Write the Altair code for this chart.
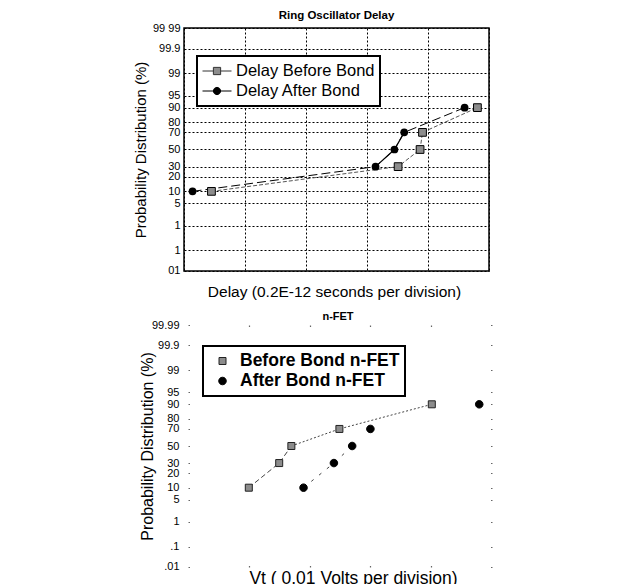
import altair as alt
import pandas as pd
from statistics import NormalDist

# ---- data ----
prob = [10, 30, 50, 70, 90]                       # cumulative probability (%)
delay_before = [0.45, 3.51, 3.87, 3.91, 4.81]     # delay, in divisions
delay_after = [0.14, 3.14, 3.45, 3.61, 4.60]
vt_before = [1.00, 1.50, 1.70, 2.49, 4.01]        # Vt, in divisions
vt_after = [1.90, 2.40, 2.70, 3.00, 4.79]

tick_pct = [99.99, 99.9, 99, 95, 90, 80, 70, 50, 30, 20, 10, 5, 1, 0.1, 0.01]
top_tick_labels = ["99 99", "99.9", "99", "95", "90", "80", "70", "50", "30",
                   "20", "10", "5", "1", "1", "01"]
bottom_tick_labels = ["99.99", "99.9", "99", "95", "90", "80", "70", "50", "30",
                      "20", "10", "5", "1", ".1", ".01"]

top_names = ["Delay Before Bond", "Delay After Bond"]
bottom_names = ["Before Bond n-FET", "After Bond n-FET"]

FONT = "Liberation Sans"

nd = NormalDist()


def probit(p):
    return nd.inv_cdf(p / 100.0)


tick_z = [round(probit(p), 4) for p in tick_pct]
y_lo, y_hi = probit(0.01), probit(99.99)


def label_expr(labels):
    expr = "''"
    for zv, lab in reversed(list(zip(tick_z, labels))):
        expr = f"abs(datum.value - ({zv})) < 0.01 ? '{lab}' : {expr}"
    return expr


def frame(xs, name):
    return pd.DataFrame({"x": xs, "p": prob, "z": [probit(p) for p in prob], "series": name})


top_b = frame(delay_before, top_names[0])
top_a = frame(delay_after, top_names[1])
top_all = pd.concat([top_b, top_a], ignore_index=True)
bot_b = frame(vt_before, bottom_names[0])
bot_a = frame(vt_after, bottom_names[1])
bot_all = pd.concat([bot_b, bot_a], ignore_index=True)

# ---- top panel ----
W1, H1 = 305, 243
top_x_axis = alt.Axis(title="Delay (0.2E-12 seconds per division)", values=[0, 1, 2, 3, 4, 5],
                      labels=False, ticks=False, domain=False, grid=True, gridDash=[2, 2],
                      gridColor="black", gridOpacity=1, gridWidth=1, titleFontSize=15.5,
                      titleFontWeight="normal", titlePadding=13, titleX=150)
top_y_axis = alt.Axis(title="Probability Distribution (%)", values=tick_z,
                      labelExpr=label_expr(top_tick_labels), labelOverlap=False, labelFlush=False,
                      ticks=False, domain=False, grid=True, gridDash=[2, 2], gridColor="black",
                      gridOpacity=1, gridWidth=1, labelFontSize=11, labelPadding=4,
                      titleFontSize=15, titleFontWeight="normal", titlePadding=4)
X1 = alt.X("x:Q", scale=alt.Scale(domain=[0, 5], nice=False, zero=False), axis=top_x_axis)
Y1 = alt.Y("z:Q", scale=alt.Scale(domain=[y_lo, y_hi], nice=False, zero=False), axis=top_y_axis)

sq_path = "M-1,0H-0.25M0.25,0H1M-0.25,-0.25H0.25V0.25H-0.25Z"
ci_path = "M-1,0H-0.25M0.25,0H1M-0.25,0A0.25,0.25,0,1,1,0.25,0A0.25,0.25,0,1,1,-0.25,0Z"

top_legend = alt.Legend(title=None, orient="none", legendX=13, legendY=28, symbolSize=841,
                        symbolStrokeColor="black", symbolStrokeWidth=1, symbolOpacity=1,
                        labelFontSize=16.5, labelFont=FONT, labelColor="black", padding=5,
                        clipHeight=20, rowPadding=0, labelOffset=4, fillColor="white",
                        strokeColor="black", labelLimit=300)

t_line_b = alt.Chart(top_b).mark_line(color="#555", strokeWidth=1, strokeDash=[4, 2]).encode(x=X1, y=Y1)
t_line_a = alt.Chart(top_a).mark_line(color="black", strokeWidth=1, strokeDash=[9, 4]).encode(x=X1, y=Y1)
t_line_a2 = alt.Chart(top_a.iloc[1:4]).mark_line(color="black", strokeWidth=1.2).encode(x=X1, y=Y1)
t_pts_b = alt.Chart(top_b).mark_point(shape="square", filled=True, fill="#8c8c8c", stroke="black",
                                      strokeWidth=1, size=60, opacity=1).encode(x=X1, y=Y1)
t_pts_a = alt.Chart(top_a).mark_point(shape="circle", filled=True, fill="black",
                                      size=60, opacity=1).encode(x=X1, y=Y1)
t_leg = alt.Chart(top_all).mark_point(filled=True, opacity=0, strokeWidth=1).encode(
    x=X1, y=Y1,
    shape=alt.Shape("series:N", scale=alt.Scale(domain=top_names, range=[sq_path, ci_path]),
                    legend=top_legend),
    fill=alt.Fill("series:N", scale=alt.Scale(domain=top_names, range=["#8c8c8c", "black"]),
                  legend=top_legend),
    stroke=alt.Stroke("series:N", scale=alt.Scale(domain=top_names, range=["#333", "black"]),
                      legend=top_legend),
)

top = alt.layer(t_line_b, t_line_a, t_line_a2, t_pts_b, t_pts_a, t_leg).properties(
    width=W1, height=H1,
    title=alt.Title("Ring Oscillator Delay", fontSize=11.5, fontWeight="bold", font=FONT,
                    offset=1, anchor="middle", color="black"),
    view=alt.ViewBackground(stroke="black", strokeWidth=1.5),
)

# ---- bottom panel ----
# plot area starts 4px left of the first tick column (the panel sits slightly right in the scan)
W2, H2 = 308, 242
x2_lo = -4 * 5 / 304
bot_x_axis = alt.Axis(title="Vt ( 0.01 Volts per division)", values=[1, 2, 3, 4],
                      labels=False, ticks=False, domain=False, grid=True,
                      gridDash=[1.5, H2 - 3, 1.5], gridColor="#666", gridOpacity=1, gridWidth=1.2,
                      titleFontSize=17.5, titleFontWeight="normal", titlePadding=2, titleX=169)
bot_y_axis = alt.Axis(title="Probability Distribution (%)", values=tick_z,
                      labelExpr=label_expr(bottom_tick_labels), labelOverlap=False, labelFlush=False,
                      ticks=False, domain=False, grid=True, gridDash=[0, 4, 1.5, W2 - 7, 1.5],
                      gridColor="#666", gridOpacity=1, gridWidth=1.2, labelFontSize=11,
                      labelPadding=5, titleFontSize=16, titleFontWeight="normal", titlePadding=-4)
X2 = alt.X("x:Q", scale=alt.Scale(domain=[x2_lo, 5], nice=False, zero=False), axis=bot_x_axis)
Y2 = alt.Y("z:Q", scale=alt.Scale(domain=[y_lo, y_hi], nice=False, zero=False), axis=bot_y_axis)

sq_small = "M-0.25,-0.25H0.25V0.25H-0.25Z"
ci_small = "M-0.27,0A0.27,0.27,0,1,1,0.27,0A0.27,0.27,0,1,1,-0.27,0Z"

bot_legend = alt.Legend(title=None, orient="none", legendX=19, legendY=21, symbolSize=784,
                        symbolStrokeColor="black", symbolStrokeWidth=1, symbolOpacity=1,
                        labelFontSize=17.5, labelFontWeight="bold", labelFont=FONT,
                        labelColor="black", padding=5, clipHeight=20, rowPadding=0,
                        labelOffset=3, fillColor="white", strokeColor="black", labelLimit=300)

b_line_b1 = alt.Chart(bot_b.iloc[0:3]).mark_line(color="#444", strokeWidth=1, strokeDash=[5, 3]).encode(x=X2, y=Y2)
b_line_b2 = alt.Chart(bot_b.iloc[2:5]).mark_line(color="#444", strokeWidth=1, strokeDash=[2, 2]).encode(x=X2, y=Y2)
b_line_a = alt.Chart(bot_a.iloc[0:3]).mark_line(color="#444", strokeWidth=1, strokeDash=[3, 7]).encode(x=X2, y=Y2)
b_pts = alt.Chart(bot_all).mark_point(filled=True, opacity=1, size=784, strokeWidth=1).encode(
    x=X2, y=Y2,
    shape=alt.Shape("series:N", scale=alt.Scale(domain=bottom_names, range=[sq_small, ci_small]),
                    legend=bot_legend),
    fill=alt.Fill("series:N", scale=alt.Scale(domain=bottom_names, range=["#8c8c8c", "black"]),
                  legend=bot_legend),
    stroke=alt.Stroke("series:N", scale=alt.Scale(domain=bottom_names, range=["#222", "black"]),
                      legend=bot_legend),
)

bottom = alt.layer(b_line_b1, b_line_b2, b_line_a, b_pts).properties(
    width=W2, height=H2,
    title=alt.Title("n-FET", fontSize=11, fontWeight="bold", font=FONT, offset=0, dy=3,
                    anchor="middle", color="black"),
    view=alt.ViewBackground(stroke="transparent"),
)

chart = (
    alt.vconcat(top, bottom, spacing=9)
    .resolve_scale(shape="independent", fill="independent", stroke="independent")
    .resolve_legend(shape="independent", fill="independent", stroke="independent")
    .properties(padding={"left": 124, "top": 0, "right": 5, "bottom": 5})
    .configure(font=FONT)
    .configure_axis(labelColor="black", titleColor="black", labelFont=FONT, titleFont=FONT)
    .configure_legend(strokeWidth=2)
)

chart.save("out.html", embed_options={"renderer": "svg", "actions": False})
